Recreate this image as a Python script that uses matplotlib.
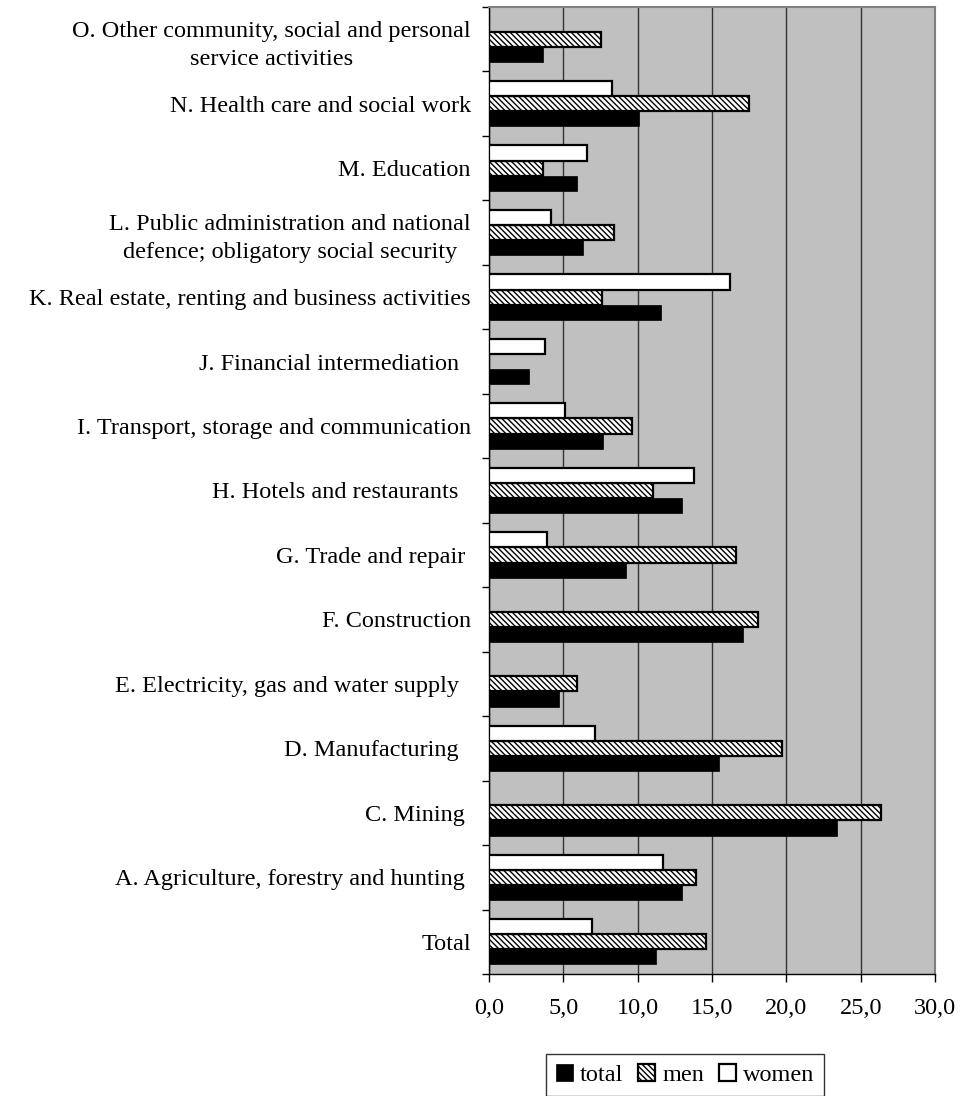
import matplotlib.pyplot as plt
import numpy as np
from matplotlib.ticker import FuncFormatter, FixedLocator

plt.rcParams['font.family'] = ['Liberation Serif', 'DejaVu Serif']
plt.rcParams['hatch.linewidth'] = 1.0

# categories, bottom to top
categories = [
    "Total",
    "A. Agriculture, forestry and hunting ",
    "C. Mining ",
    "D. Manufacturing  ",
    "E. Electricity, gas and water supply  ",
    "F. Construction",
    "G. Trade and repair ",
    "H. Hotels and restaurants  ",
    "I. Transport, storage and communication",
    "J. Financial intermediation  ",
    "K. Real estate, renting and business activities",
    "L. Public administration and national\ndefence; obligatory social security",
    "M. Education",
    "N. Health care and social work",
    "O. Other community, social and personal\nservice activities",
]
total = [11.2, 13.0, 23.4, 15.5, 4.7, 17.1, 9.2, 13.0, 7.7, 2.7, 11.6, 6.3, 5.9, 10.1, 3.6]
men = [14.6, 13.9, 26.4, 19.7, 5.9, 18.1, 16.6, 11.0, 9.6, 0.0, 7.6, 8.4, 3.6, 17.5, 7.5]
women = [6.9, 11.7, 0.0, 7.1, 0.0, 0.0, 3.9, 13.8, 5.1, 3.8, 16.2, 4.2, 6.6, 8.3, 0.0]
xticks = [0, 5, 10, 15, 20, 25, 30]

fs = 17.5

fig = plt.figure(figsize=(9.61, 10.96), dpi=100)
ax = fig.add_axes([489 / 961, 1 - 974 / 1096, 446 / 961, 967 / 1096])
ax.set_facecolor('#C0C0C0')

y = np.arange(len(categories))
h = 0.235

# hide zero-value bars (they are absent in the source)
def draw(vals, offset, **kw):
    vals = np.array(vals)
    m = vals > 0
    return ax.barh(y[m] + offset, vals[m], height=h, **kw)

b1 = draw(total, -h, color='black', edgecolor='black', linewidth=0.5, label='total', zorder=3)
b2 = draw(men, 0, facecolor='white', edgecolor='black', hatch='\\\\\\\\\\\\', linewidth=1.6, label='men', zorder=3)
b3 = draw(women, h, facecolor='white', edgecolor='black', linewidth=1.6, label='women', zorder=3)

ax.set_xlim(0, 30)
ax.set_ylim(-0.5, len(categories) - 0.5)
ax.xaxis.set_major_locator(FixedLocator(xticks))
ax.xaxis.set_major_formatter(FuncFormatter(lambda v, p: f"{v:.1f}".replace('.', ',')))
ax.grid(axis='x', color='#333333', linewidth=1.0, zorder=1)
ax.set_axisbelow(True)

ax.set_yticks(y)
ax.set_yticklabels(categories, fontsize=fs, ha='right', multialignment='center', linespacing=1.45)
ax.set_yticks(np.arange(-0.5, len(categories), 1), minor=True)
ax.tick_params(axis='y', which='major', length=0, pad=13)
ax.tick_params(axis='y', which='minor', length=5, width=1.0, direction='out')
ax.tick_params(axis='x', length=6, width=1.0, direction='out', labelsize=fs, pad=11)

for side in ['left', 'bottom']:
    ax.spines[side].set_linewidth(1.0)
ax.spines['top'].set_color('#808080')
ax.spines['right'].set_color('#808080')
ax.spines['top'].set_linewidth(1.5)
ax.spines['right'].set_linewidth(1.5)

leg = fig.legend(handles=[b1, b2, b3], labels=['total', 'men', 'women'], ncol=3,
                 loc='center', bbox_to_anchor=(685 / 961, 1 - 1075 / 1096),
                 fontsize=fs, frameon=True, fancybox=False, edgecolor='black',
                 handlelength=0.7, handleheight=0.7, handletextpad=0.3,
                 columnspacing=0.6, borderpad=0.4)
leg.get_frame().set_linewidth(1.0)

fig.savefig('out.png', dpi=100)
